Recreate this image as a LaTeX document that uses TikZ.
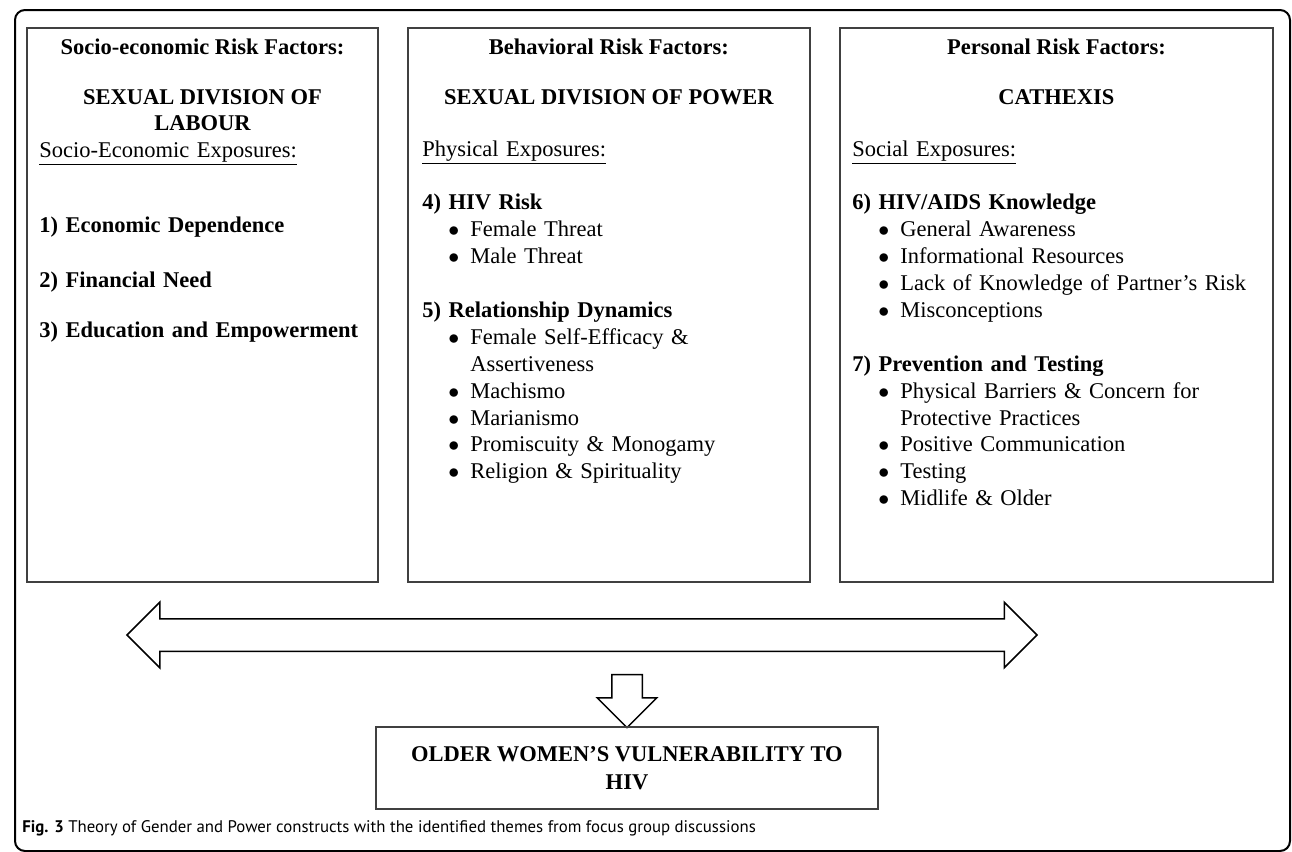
\documentclass[tikz,border=0pt]{standalone}
\usepackage{fontspec}
\setmainfont{Liberation Serif}
\newfontfamily\capfont{PT Sans}
\usetikzlibrary{shapes.arrows,positioning}
\newcommand{\boxfont}{\fontsize{11.25}{13.45}\selectfont}
\newcommand{\expo}[1]{\underline{#1}}
\newcommand{\itm}[1]{\hspace*{13pt}\makebox[11pt][l]{$\bullet$}#1}
\newcommand{\cnt}[1]{\hspace*{24pt}#1}
\tikzset{
	frame box/.style={draw=black!75, line width=0.9pt, inner sep=0pt},
	head text/.style={font=\boxfont\bfseries, anchor=base, align=center, inner sep=0pt},
	list text/.style={font=\boxfont, anchor=base west, text width=215pt, align=left, inner sep=0pt},
	big arrow/.style={draw=black, line width=0.75pt, fill=white}
}

\begin{document}
\begin{tikzpicture}[x=0.5pt,y=-0.5pt]
	\useasboundingbox (0,0) rectangle (1292,852);
	% outer frame
	\draw[line width=1pt, rounded corners=5pt] (15,10) rectangle (1290,851);

	% the three columns
	\node[frame box, anchor=north west, minimum width=175.5pt, minimum height=277pt] (labour) at (26,27) {};
	\node[frame box, anchor=north west, minimum width=201pt, minimum height=277pt] (power) at (407,27) {};
	\node[frame box, anchor=north west, minimum width=216.5pt, minimum height=277pt] (cathexis) at (839,27) {};

	% socio-economic
	\node[head text] (labourhead) at (labour.north |- 0,54) {Socio-economic Risk Factors:};
	\node[head text] (labourtitle) at (labour.north |- 0,130) {SEXUAL DIVISION OF\\[-0.5pt]LABOUR};
	\node[list text] (labourlist) at (39,157) {\expo{Socio-Economic Exposures:}\\[24.5pt]
		\textbf{1) Economic Dependence}\\[13.6pt]
		\textbf{2) Financial Need}\\[12pt]
		\textbf{3) Education and Empowerment}};

	% behavioral
	\node[head text] (powerhead) at (power.north |- 0,54) {Behavioral Risk Factors:};
	\node[head text] (powertitle) at (power.north |- 0,104) {SEXUAL DIVISION OF POWER};
	\node[list text] (powerlist) at (422,156) {\expo{Physical Exposures:}\\[13.45pt]
		\textbf{4) HIV Risk}\\
		\itm{Female Threat}\\
		\itm{Male Threat}\\[13.45pt]
		\textbf{5) Relationship Dynamics}\\
		\itm{Female Self-Efficacy \&}\\
		\cnt{Assertiveness}\\
		\itm{Machismo}\\
		\itm{Marianismo}\\
		\itm{Promiscuity \& Monogamy}\\
		\itm{Religion \& Spirituality}};

	% personal
	\node[head text] (cathexishead) at (cathexis.north |- 0,54) {Personal Risk Factors:};
	\node[head text] (cathexistitle) at (cathexis.north |- 0,104) {CATHEXIS};
	\node[list text] (cathexislist) at (852,156) {\expo{Social Exposures:}\\[13.45pt]
		\textbf{6) HIV/AIDS Knowledge}\\
		\itm{General Awareness}\\
		\itm{Informational Resources}\\
		\itm{Lack of Knowledge of Partner’s Risk}\\
		\itm{Misconceptions}\\[13.45pt]
		\textbf{7) Prevention and Testing}\\
		\itm{Physical Barriers \& Concern for}\\
		\cnt{Protective Practices}\\
		\itm{Positive Communication}\\
		\itm{Testing}\\
		\itm{Midlife \& Older}};

	% arrows
	\node[big arrow, double arrow, inner sep=7.75pt, double arrow head extend=8.25pt,
		minimum height=455pt] (link) at (582,635) {};
	\node[big arrow, single arrow, shape border rotate=270, inner sep=7.25pt,
		single arrow head extend=7.25pt, minimum height=26.5pt] (down) at (627,693.5) {};

	\node[frame box, minimum width=251pt, minimum height=41pt, align=center,
		font=\fontsize{11.25}{14}\selectfont\bfseries] (vuln) at (627,768) {OLDER WOMEN’S VULNERABILITY TO\\HIV};

	% caption
	\node[anchor=base west, inner sep=0pt, font=\capfont\fontsize{8.4}{10}\selectfont] (caption) at (22,832)
		{\textbf{Fig. 3} Theory of Gender and Power constructs with the identified themes from focus group discussions};
\end{tikzpicture}
\end{document}
